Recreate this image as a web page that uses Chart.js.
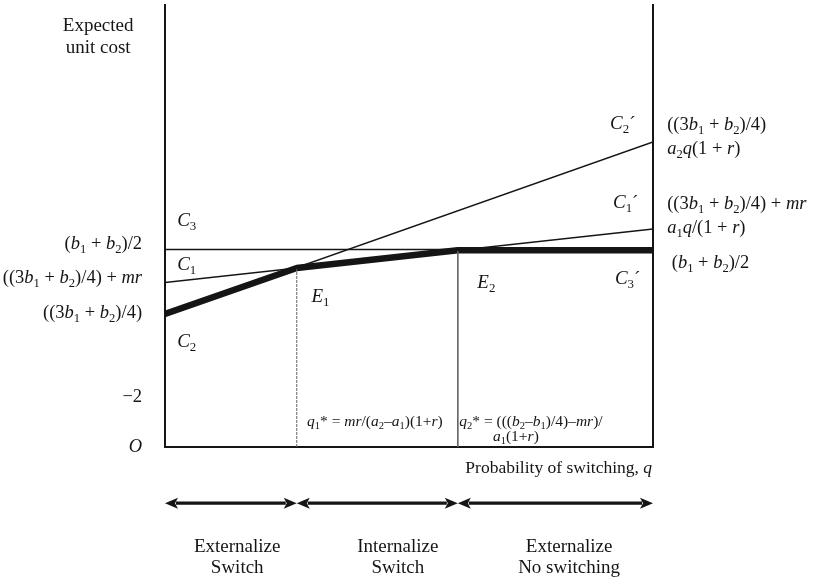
<!DOCTYPE html>
<html>
<head>
<meta charset="utf-8">
<script src="https://cdn.jsdelivr.net/npm/chart.js@4.4.0/dist/chart.umd.min.js"></script>
<style>
  html, body { margin: 0; padding: 0; background: #fff; }
</style>
</head>
<body>
<canvas id="myChart" width="815" height="580"></canvas>
<script>
// q values: start, q1*, q2*, end
const qPoints = [0, 0.27, 0.6, 1];
const qEnds = [0, 1];
// cost lines (value at q = 0 and q = 1)
const c1Line = [3.72, 4.93];
const c2Line = [3.01, 6.90];
const c3Line = [4.47, 4.47]; // thin part, runs to q2*
// lower envelope (thick line) at qPoints
const envelope = [3.01, 4.05, 4.45, 4.45];

// left side labels of the cost axis
const yTickValues = [4.6, 3.82, 3.03, 1.13, 0];
const yTickLabels = [
  '(~b~_1 + ~b~_2)/2',
  '((3~b~_1 + ~b~_2)/4) + ~mr~',
  '((3~b~_1 + ~b~_2)/4)',
  '\u22122',
  '~O~'
];

// right side labels: [text, value]
const rightLabels = [
  ['((3~b~_1 + ~b~_2)/4)', 7.29],
  ['~a~_2~q~(1 + ~r~)', 6.74],
  ['((3~b~_1 + ~b~_2)/4) + ~mr~', 5.50],
  ['~a~_1~q~/(1 + ~r~)', 4.95],
  [' (~b~_1 + ~b~_2)/2', 4.16]
];

// curve names inside the plot: [text, q, value]
const curveLabels = [
  ['~C~_3', 0.025, 5.11],
  ['~C~_1', 0.025, 4.12],
  ['~C~_2', 0.025, 2.38],
  ['~E~_1', 0.30, 3.39],
  ['~E~_2', 0.64, 3.71],
  ['~C~_2\u00b4', 0.912, 7.31],
  ['~C~_1\u00b4', 0.918, 5.52],
  ['~C~_3\u00b4', 0.922, 3.80]
];

const thresholdLabels = [
  ['~q~_1* = ~mr~/(~a~_2\u2013~a~_1)(1+~r~)', 0.291, 0.57],
  ['~q~_2* = (((~b~_2\u2013~b~_1)/4)\u2013~mr~)/', 0.603, 0.57],
  ['~a~_1(1+~r~)', 0.672, 0.23]
];

const regionNames = [
  ['Externalize', 'Switch'],
  ['Internalize', 'Switch'],
  ['Externalize', 'No switching']
];
const regionCenters = [0.148, 0.477, 0.828];

const FONT = '"Liberation Serif", "Times New Roman", serif';
const INK = '#151515';

// tiny rich text: ~ toggles italic, _x makes x a subscript
function parseRich(str) {
  const segs = [];
  let italic = false, buf = '';
  const flush = () => { if (buf) segs.push({ t: buf, it: italic, sub: false }); buf = ''; };
  for (let i = 0; i < str.length; i++) {
    const ch = str[i];
    if (ch === '~') { flush(); italic = !italic; continue; }
    if (ch === '_') { flush(); segs.push({ t: str[i + 1], it: false, sub: true }); i++; continue; }
    buf += ch;
  }
  flush();
  return segs;
}

function drawRich(ctx, str, x, y, size, align) {
  const segs = parseRich(str);
  const fontOf = s => (s.it ? 'italic ' : '') + (s.sub ? size * 0.68 : size) + 'px ' + FONT;
  let total = 0;
  segs.forEach(s => { ctx.font = fontOf(s); s.w = ctx.measureText(s.t).width; total += s.w; });
  let cx = x;
  if (align === 'right') cx = x - total;
  if (align === 'center') cx = x - total / 2;
  ctx.textAlign = 'left';
  ctx.textBaseline = 'middle';
  segs.forEach(s => {
    ctx.font = fontOf(s);
    ctx.fillText(s.t, cx, s.sub ? y + size * 0.3 : y);
    cx += s.w;
  });
}

function drawArrow(ctx, x1, x2, y) {
  const head = 13, half = 5.5;
  ctx.lineWidth = 3.2;
  ctx.beginPath();
  ctx.moveTo(x1 + head - 2, y);
  ctx.lineTo(x2 - head + 2, y);
  ctx.stroke();
  ctx.beginPath();
  ctx.moveTo(x1, y); ctx.lineTo(x1 + head, y - half); ctx.lineTo(x1 + head - 3, y); ctx.lineTo(x1 + head, y + half);
  ctx.closePath(); ctx.fill();
  ctx.beginPath();
  ctx.moveTo(x2, y); ctx.lineTo(x2 - head, y - half); ctx.lineTo(x2 - head + 3, y); ctx.lineTo(x2 - head, y + half);
  ctx.closePath(); ctx.fill();
}

const annotations = {
  id: 'annotations',
  afterDraw(chart) {
    const ctx = chart.ctx;
    const xs = chart.scales.x, ys = chart.scales.y;
    const px = v => xs.getPixelForValue(v);
    const py = v => ys.getPixelForValue(v);
    ctx.save();
    ctx.fillStyle = INK;
    ctx.strokeStyle = INK;

    drawRich(ctx, 'Expected', px(-0.137), py(9.52), 19, 'center');
    drawRich(ctx, 'unit cost', px(-0.137), py(9.03), 19, 'center');

    yTickValues.forEach((v, i) => drawRich(ctx, yTickLabels[i], px(-0.047), py(v), 18.5, 'right'));
    rightLabels.forEach(([t, v]) => drawRich(ctx, t, px(1.029), py(v), 18.5, 'left'));
    curveLabels.forEach(([t, q, v]) => drawRich(ctx, t, px(q), py(v), 19, 'left'));
    thresholdLabels.forEach(([t, q, v]) => drawRich(ctx, t, px(q), py(v), 15.5, 'left'));

    drawRich(ctx, 'Probability of switching, ~q~', px(0.998), py(-0.475), 17.5, 'right');

    for (let i = 0; i < qPoints.length - 1; i++) {
      drawArrow(ctx, px(qPoints[i]), px(qPoints[i + 1]), py(-1.27));
    }
    regionNames.forEach(([a, b], i) => {
      drawRich(ctx, a, px(regionCenters[i]), py(-2.26), 19, 'center');
      drawRich(ctx, b, px(regionCenters[i]), py(-2.74), 19, 'center');
    });
    ctx.restore();
  }
};

const pts = (xs, ys) => xs.map((x, i) => ({ x, y: ys[i] }));
const thin = { borderColor: INK, borderWidth: 1.5, pointRadius: 0, fill: false, tension: 0 };

const ctx = document.getElementById('myChart').getContext('2d');
const chart = new Chart(ctx, {
  type: 'line',
  data: {
    datasets: [
      { ...thin, label: 'C3', data: pts([qPoints[0], qPoints[2]], c3Line) },
      { ...thin, label: 'C1', data: pts(qEnds, c1Line) },
      { ...thin, label: 'C2', data: pts(qEnds, c2Line) },
      { ...thin, label: 'q1', borderColor: '#666', borderWidth: 1, borderDash: [3, 1],
        data: pts([qPoints[1], qPoints[1]], [envelope[1], 0]) },
      { ...thin, label: 'q2', borderColor: '#666', borderWidth: 1,
        data: pts([qPoints[2], qPoints[2]], [envelope[2], 0]) },
      { ...thin, label: 'envelope', borderWidth: 6.5, borderJoinStyle: 'round',
        data: pts(qPoints, envelope) }
    ]
  },
  options: {
    responsive: false,
    animation: false,
    layout: { padding: { left: 165, right: 162, top: 5, bottom: 133 } },
    plugins: { legend: { display: false }, tooltip: { enabled: false } },
    scales: {
      x: {
        type: 'linear', min: 0, max: 1,
        grid: { display: false, drawTicks: false },
        ticks: { display: false },
        border: { display: true, color: INK, width: 2 },
        afterFit: s => { s.height = 0; }
      },
      y: {
        type: 'linear', min: 0, max: 10, position: 'left',
        grid: { display: false, drawTicks: false },
        ticks: { display: false },
        border: { display: true, color: INK, width: 2 },
        afterFit: s => { s.width = 0; }
      },
      y2: {
        type: 'linear', min: 0, max: 10, position: 'right',
        grid: { display: false, drawTicks: false },
        ticks: { display: false },
        border: { display: true, color: INK, width: 2 },
        afterFit: s => { s.width = 0; }
      }
    }
  },
  plugins: [annotations]
});
</script>
</body>
</html>
